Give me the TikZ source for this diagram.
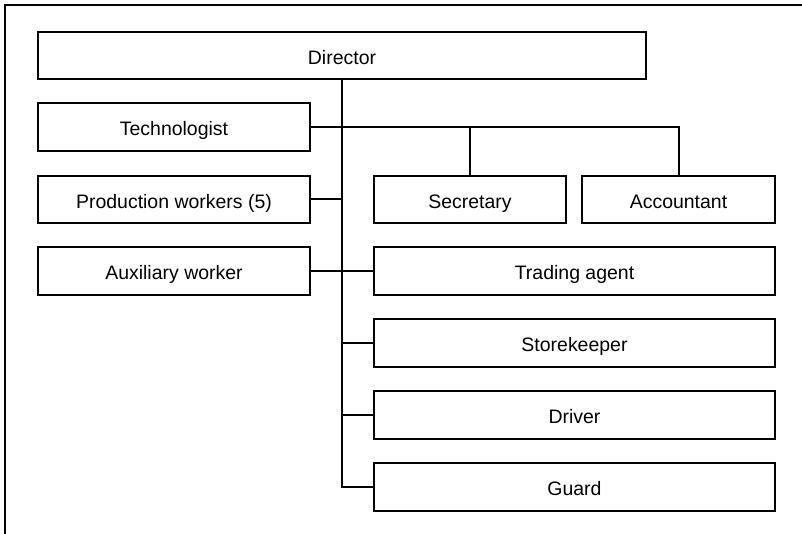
\documentclass[tikz,border=0pt]{standalone}
\usepackage{fontspec}
\setmainfont{Liberation Sans}
\usetikzlibrary{fit}
\begin{document}
\begin{tikzpicture}[x=0.75pt,y=-0.75pt,
  box/.style={draw, line width=1.5pt, inner sep=0pt,
    label={[font=\fontsize{14.6}{17}\selectfont, inner sep=0pt,
            text height=13pt, text depth=0pt]center:#1}},
  link/.style={line width=1.5pt}]
\useasboundingbox (0,0) rectangle (802,534);
% outer frame, running past the page on the right and bottom
\begin{scope}
  \clip (0,0) rectangle (802,534);
  \draw[link] (5,545) |- (812,5);
\end{scope}

% left column
\node[box=Director,               fit={(38,32) (646,79)}]   (dir)   {};
\node[box=Technologist,           fit={(38,103) (310,151)}] (tech)  {};
\node[box=Production workers (5), fit={(38,176) (310,223)}] (prod)  {};
\node[box=Auxiliary worker,       fit={(38,247) (310,295)}] (aux)   {};

% right column
\node[box=Secretary,     fit={(374,176) (566,223)}] (sec)   {};
\node[box=Accountant,    fit={(582,176) (775,223)}] (acc)   {};
\node[box=Trading agent, fit={(374,247) (775,295)}] (trade) {};
\node[box=Storekeeper,   fit={(374,319) (775,367)}] (store) {};
\node[box=Driver,        fit={(374,391) (775,439)}] (drv)   {};
\node[box=Guard,         fit={(374,463) (775,511)}] (guard) {};

% main trunk from the director down to the guard
\draw[link] (dir.south) -- (dir.south |- guard.west) -- (guard.west);

% technologist branch to secretary and accountant
\draw[link] (tech.east) -| (acc.north);
\draw[link] (tech.east -| sec.north) -- (sec.north);

% side branches off the trunk
\draw[link] (prod.east) -- (prod.east -| dir.south);
\draw[link] (aux.east) -- (trade.west);
\draw[link] (store.west) -- (store.west -| dir.south);
\draw[link] (drv.west) -- (drv.west -| dir.south);
\end{tikzpicture}
\end{document}
